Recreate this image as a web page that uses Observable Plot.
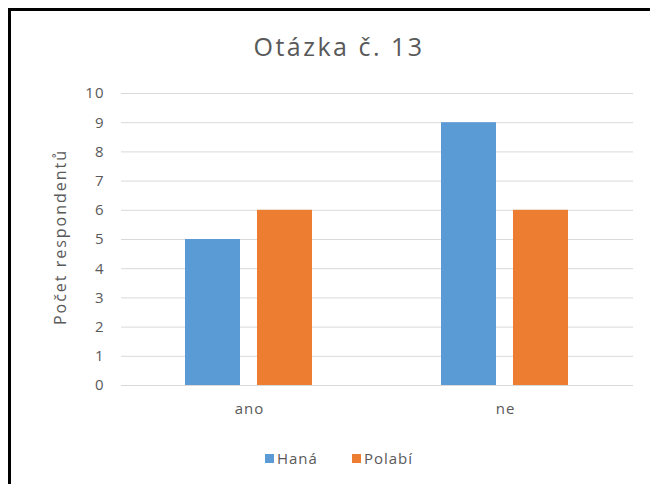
<!DOCTYPE html>
<html>
<head>
<meta charset="utf-8">
<script src="https://cdn.jsdelivr.net/npm/d3@7"></script>
<script src="https://cdn.jsdelivr.net/npm/@observablehq/plot@0.6"></script>
<style>
  html, body { margin: 0; padding: 0; background: #fff; overflow: hidden; }
  #chart { position: relative; width: 650px; height: 484px; overflow: hidden; font-family: "Open Sans", sans-serif; color: #595959; }
  #border { position: absolute; left: 8px; top: 8px; width: 700px; height: 600px; border: 3px solid #000; box-sizing: border-box; }
  #plot { position: absolute; left: 0; top: 0; }
  #title { position: absolute; left: 0; width: 678px; top: 28px; text-align: center; font-size: 25px; line-height: 36px; letter-spacing: 2.5px; }
  #ylabel { position: absolute; left: 60px; top: 237px; transform: translate(-50%, -50%) rotate(-90deg); white-space: nowrap; font-size: 16px; letter-spacing: 2px; }
  #legend { position: absolute; left: 0; width: 678px; top: 447px; display: flex; justify-content: center; gap: 34px; font-size: 15px; letter-spacing: 1px; line-height: 22px; }
  #legend .item { display: flex; align-items: center; gap: 3px; }
  #legend .sw { width: 9px; height: 9px; display: inline-block; }
  #plot svg text { letter-spacing: 1px; font-size: 15px; }
</style>
</head>
<body>
<div id="chart">
  <div id="border"></div>
  <div id="plot"></div>
  <div id="title"></div>
  <div id="ylabel"></div>
  <div id="legend"></div>
</div>
<script>
const chartTitle = "Otázka č. 13";
const yTitle = "Počet respondentů";
const answers = ["ano", "ne"];
const regions = ["Haná", "Polabí"];
const regionColors = ["#5B9BD5", "#ED7D31"];
const hanaValues = [5, 9];
const polabiValues = [6, 6];
const yTicks = [0, 1, 2, 3, 4, 5, 6, 7, 8, 9, 10];

const rows = [];
answers.forEach((a, i) => {
  rows.push({answer: a, region: regions[0], count: hanaValues[i]});
  rows.push({answer: a, region: regions[1], count: polabiValues[i]});
});

const plot = Plot.plot({
  width: 650,
  height: 484,
  marginLeft: 120,
  marginRight: 17,
  marginTop: 93,
  marginBottom: 99,
  style: {fontFamily: "'Open Sans', sans-serif", fontSize: "15px", color: "#595959", background: "transparent"},
  fx: {domain: answers, padding: 0, label: null, axis: null},
  x: {domain: regions, paddingInner: 0.233, paddingOuter: 0.87, axis: null},
  y: {domain: [0, 10], label: null, axis: null},
  color: {domain: regions, range: regionColors},
  marks: [
    Plot.gridY(yTicks, {stroke: "#d9d9d9", strokeOpacity: 1}),
    Plot.axisY(yTicks, {tickSize: 0, tickPadding: 17, fontSize: 15, label: null, fill: "#595959"}),
    Plot.axisFx({anchor: "bottom", tickSize: 0, tickPadding: 18, fontSize: 15, label: null, fill: "#595959"}),
    Plot.barY(rows, {fx: "answer", x: "region", y: "count", fill: "region"})
  ]
});
document.getElementById("plot").appendChild(plot);

document.getElementById("title").textContent = chartTitle;
document.getElementById("ylabel").textContent = yTitle;
const legend = document.getElementById("legend");
regions.forEach((r, i) => {
  const item = document.createElement("span");
  item.className = "item";
  const sw = document.createElement("span");
  sw.className = "sw";
  sw.style.background = regionColors[i];
  const lab = document.createElement("span");
  lab.textContent = r;
  item.appendChild(sw);
  item.appendChild(lab);
  legend.appendChild(item);
});
</script>
</body>
</html>
